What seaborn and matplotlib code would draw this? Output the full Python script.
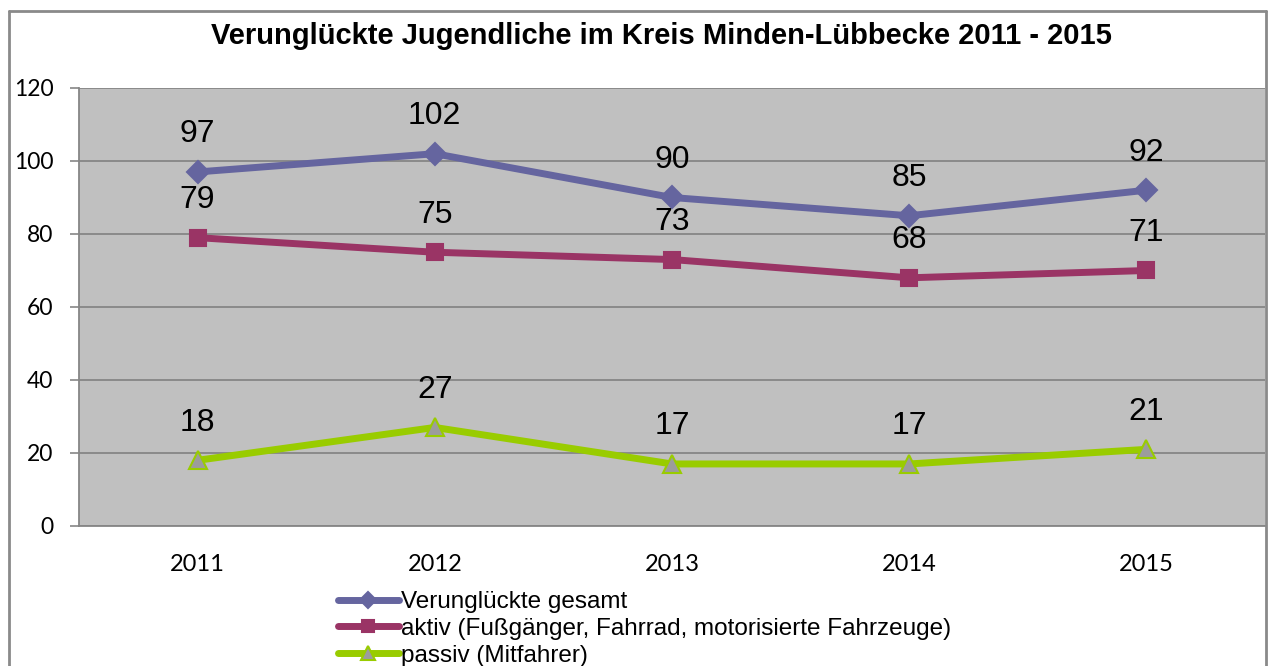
import numpy as np
import pandas as pd
import matplotlib
matplotlib.use("Agg")
import matplotlib.pyplot as plt
from matplotlib.lines import Line2D
import seaborn as sns

# Daten
jahre = ["2011", "2012", "2013", "2014", "2015"]
gesamt = [97, 102, 90, 85, 92]
aktiv = [79, 75, 73, 68, 70]
passiv = [18, 27, 17, 17, 21]
# Beschriftungen wie im Original (2015 aktiv steht als 71)
gesamt_lbl = [97, 102, 90, 85, 92]
aktiv_lbl = [79, 75, 73, 68, 71]
passiv_lbl = [18, 27, 17, 17, 21]
namen = ["Verunglückte gesamt",
         "aktiv (Fußgänger, Fahrrad, motorisierte Fahrzeuge)",
         "passiv (Mitfahrer)"]
titel = "Verunglückte Jugendliche im Kreis Minden-Lübbecke 2011 - 2015"
y_ticks = [0, 20, 40, 60, 80, 100, 120]

sns.set_theme(style="white")
plt.rcParams["font.family"] = ["Liberation Sans", "DejaVu Sans"]
plt.rcParams["text.color"] = "black"
plt.rcParams["xtick.labelcolor"] = "black"
plt.rcParams["ytick.labelcolor"] = "black"

W, H = 1268, 666
fig = plt.figure(figsize=(W / 100, H / 100), dpi=100)
ax = fig.add_axes([79 / W, 1 - 526 / H, (1265 - 79) / W, (526 - 88) / H])
ax.set_facecolor("#c0c0c0")

x = np.arange(len(jahre))
serien = [
    (gesamt, gesamt_lbl, "#65659f", "D", 11, "#65659f", "#65659f"),
    (aktiv, aktiv_lbl, "#9a3465", "s", 12, "#9a3465", "#9a3465"),
    (passiv, passiv_lbl, "#99cc00", "^", 13, "#9c9c9c", "#99cc00"),
]
for (werte, lbl, col, mk, ms, fc, ec), name in zip(serien, namen):
    df = pd.DataFrame({"x": x, "y": werte})
    sns.lineplot(data=df, x="x", y="y", ax=ax, color=col, lw=5, marker=mk,
                 markersize=ms, markerfacecolor=fc, markeredgecolor=ec,
                 markeredgewidth=1.5, label=name, zorder=3)
    for xi, yi, t in zip(x, werte, lbl):
        ax.annotate(str(t), (xi, yi), textcoords="offset points", xytext=(0, 27),
                    ha="center", va="center", fontsize=23, color="black")

ax.set_xlim(-0.5, len(jahre) - 0.5)
ax.set_ylim(0, 120)
ax.set_xticks(x)
ax.set_xticklabels(jahre, fontfamily="Lato", fontsize=17)
ax.set_yticks(y_ticks)
ax.set_yticklabels([str(v) for v in y_ticks], fontfamily="Lato", fontsize=16.5)
ax.set_xticks(np.arange(-0.5, len(jahre)), minor=True)
ax.tick_params(axis="x", which="major", length=0, pad=20)
ax.tick_params(axis="x", which="minor", length=5, width=1.2, color="#868686", direction="out")
ax.tick_params(axis="y", which="major", length=6.5, width=1.2, color="#868686",
               direction="out", pad=12, left=True)
ax.grid(axis="y", color="#868686", lw=1.3)
ax.set_axisbelow(True)
ax.set_xlabel("")
ax.set_ylabel("")
for s in ["top", "right"]:
    ax.spines[s].set_visible(False)
for s in ["left", "bottom"]:
    ax.spines[s].set_color("#868686")
    ax.spines[s].set_linewidth(1.3)

fig.text(661 / W, 1 - 36 / H, titel, ha="center", va="center",
         fontsize=21, fontweight="bold", color="black")

# Legende unten
h, l = ax.get_legend_handles_labels()
ax.legend(h, l, loc="upper left", bbox_to_anchor=(338 / W, 1 - 591 / H),
          bbox_transform=fig.transFigure, frameon=False, fontsize=17.5,
          handlelength=2.5, handletextpad=0.08, labelspacing=0.2,
          markerscale=0.75, borderaxespad=0, borderpad=0)

# Rahmen
rc = "#8a8a8a"
for xs, ys in [([9, 9], [11, 700]), ([9, 1266], [11, 11]), ([1266, 1266], [11, 700])]:
    fig.add_artist(Line2D([v / W for v in xs], [1 - v / H for v in ys],
                          color=rc, lw=2, transform=fig.transFigure))

fig.savefig("out.png", dpi=100)
